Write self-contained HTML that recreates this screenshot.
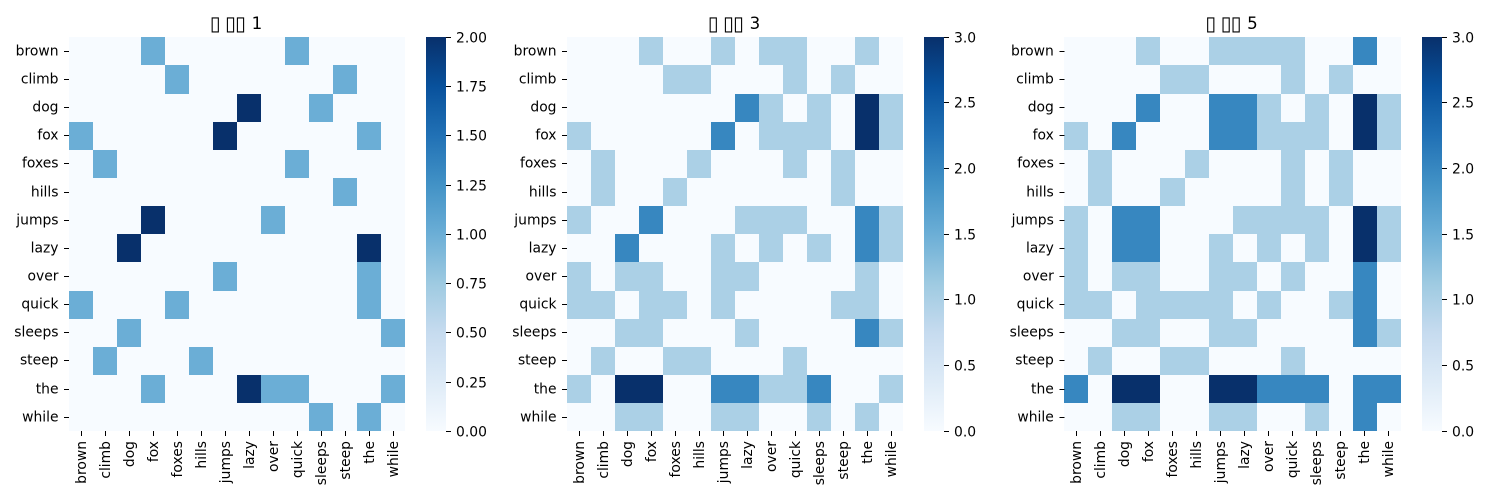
<!DOCTYPE html>
<html lang="en">
<head>
<meta charset="utf-8">
<title>Co-occurrence heatmaps</title>
<style>
html,body{margin:0;padding:0;background:#fff;}
svg{display:block;}
text{font-family:"DejaVu Sans",sans-serif;fill:#000;}
.tick-label{font-size:13.89px;}
.title{font-size:16.67px;}
</style>
</head>
<body>
<svg id="chart" xmlns="http://www.w3.org/2000/svg" width="1500" height="500" viewBox="0 0 1500 500">
<rect x="0" y="0" width="1500" height="500" fill="#ffffff"></rect>
<defs><linearGradient id="blues-gradient" x1="0" y1="1" x2="0" y2="0"></linearGradient></defs>
</svg>
<script>
const rowLabels = ['brown','climb','dog','fox','foxes','hills','jumps','lazy','over','quick','sleeps','steep','the','while'];
const columnLabels = ['brown','climb','dog','fox','foxes','hills','jumps','lazy','over','quick','sleeps','steep','the','while'];

const window1Title = '\u25AF \u25AF\u25AF 1';
const window1Counts = [
  [0,0,0,1,0,0,0,0,0,1,0,0,0,0],
  [0,0,0,0,1,0,0,0,0,0,0,1,0,0],
  [0,0,0,0,0,0,0,2,0,0,1,0,0,0],
  [1,0,0,0,0,0,2,0,0,0,0,0,1,0],
  [0,1,0,0,0,0,0,0,0,1,0,0,0,0],
  [0,0,0,0,0,0,0,0,0,0,0,1,0,0],
  [0,0,0,2,0,0,0,0,1,0,0,0,0,0],
  [0,0,2,0,0,0,0,0,0,0,0,0,2,0],
  [0,0,0,0,0,0,1,0,0,0,0,0,1,0],
  [1,0,0,0,1,0,0,0,0,0,0,0,1,0],
  [0,0,1,0,0,0,0,0,0,0,0,0,0,1],
  [0,1,0,0,0,1,0,0,0,0,0,0,0,0],
  [0,0,0,1,0,0,0,2,1,1,0,0,0,1],
  [0,0,0,0,0,0,0,0,0,0,1,0,1,0]
];
const window1TickValues = [0,0.25,0.5,0.75,1,1.25,1.5,1.75,2];
const window1TickLabels = ['0.00','0.25','0.50','0.75','1.00','1.25','1.50','1.75','2.00'];

const window3Title = '\u25AF \u25AF\u25AF 3';
const window3Counts = [
  [0,0,0,1,0,0,1,0,1,1,0,0,1,0],
  [0,0,0,0,1,1,0,0,0,1,0,1,0,0],
  [0,0,0,0,0,0,0,2,1,0,1,0,3,1],
  [1,0,0,0,0,0,2,0,1,1,1,0,3,1],
  [0,1,0,0,0,1,0,0,0,1,0,1,0,0],
  [0,1,0,0,1,0,0,0,0,0,0,1,0,0],
  [1,0,0,2,0,0,0,1,1,1,0,0,2,1],
  [0,0,2,0,0,0,1,0,1,0,1,0,2,1],
  [1,0,1,1,0,0,1,1,0,0,0,0,1,0],
  [1,1,0,1,1,0,1,0,0,0,0,1,1,0],
  [0,0,1,1,0,0,0,1,0,0,0,0,2,1],
  [0,1,0,0,1,1,0,0,0,1,0,0,0,0],
  [1,0,3,3,0,0,2,2,1,1,2,0,0,1],
  [0,0,1,1,0,0,1,1,0,0,1,0,1,0]
];
const window3TickValues = [0,0.5,1,1.5,2,2.5,3];
const window3TickLabels = ['0.0','0.5','1.0','1.5','2.0','2.5','3.0'];

const window5Title = '\u25AF \u25AF\u25AF 5';
const window5Counts = [
  [0,0,0,1,0,0,1,1,1,1,0,0,2,0],
  [0,0,0,0,1,1,0,0,0,1,0,1,0,0],
  [0,0,0,2,0,0,2,2,1,0,1,0,3,1],
  [1,0,2,0,0,0,2,2,1,1,1,0,3,1],
  [0,1,0,0,0,1,0,0,0,1,0,1,0,0],
  [0,1,0,0,1,0,0,0,0,1,0,1,0,0],
  [1,0,2,2,0,0,0,1,1,1,1,0,3,1],
  [1,0,2,2,0,0,1,0,1,0,1,0,3,1],
  [1,0,1,1,0,0,1,1,0,1,0,0,2,0],
  [1,1,0,1,1,1,1,0,1,0,0,1,2,0],
  [0,0,1,1,0,0,1,1,0,0,0,0,2,1],
  [0,1,0,0,1,1,0,0,0,1,0,0,0,0],
  [2,0,3,3,0,0,3,3,2,2,2,0,2,2],
  [0,0,1,1,0,0,1,1,0,0,1,0,2,0]
];
const window5TickValues = [0,0.5,1,1.5,2,2.5,3];
const window5TickLabels = ['0.0','0.5','1.0','1.5','2.0','2.5','3.0'];

const bluesRamp = ['#f7fbff','#deebf7','#c6dbef','#9ecae1','#6baed6','#4292c6','#2171b5','#08519c','#08306b'];

const SVG_NS = 'http://www.w3.org/2000/svg';
const chart = document.getElementById('chart');

function hexToRgb(h){
  return [parseInt(h.slice(1,3),16),parseInt(h.slice(3,5),16),parseInt(h.slice(5,7),16)];
}
function bluesColor(t){
  const c = Math.max(0,Math.min(1,t))*(bluesRamp.length-1);
  const i = Math.min(Math.floor(c),bluesRamp.length-2);
  const f = c-i;
  const a = hexToRgb(bluesRamp[i]);
  const b = hexToRgb(bluesRamp[i+1]);
  const m = [0,1,2].map(function(k){return Math.round(a[k]+(b[k]-a[k])*f);});
  return 'rgb('+m[0]+','+m[1]+','+m[2]+')';
}
function make(tag,parent){
  const node = document.createElementNS(SVG_NS,tag);
  parent.appendChild(node);
  return node;
}
function setAll(node,props){
  Object.keys(props).forEach(function(k){node.setAttribute(k,props[k]);});
}

const gradient = document.getElementById('blues-gradient');
bluesRamp.forEach(function(color,i){
  const stop = make('stop',gradient);
  setAll(stop,{offset:(i/(bluesRamp.length-1)),'stop-color':color});
});

/* Fit the box glyph used in titles to the size of the missing-glyph boxes. */
const measureCtx = document.createElement('canvas').getContext('2d');
measureCtx.font = '100px "DejaVu Sans"';
const boxInk = measureCtx.measureText('\u25AF');
const boxInkHeight = (boxInk.actualBoundingBoxAscent + boxInk.actualBoundingBoxDescent) / 100;
const boxFontSize = boxInkHeight > 0 ? 15.4 / boxInkHeight : 24;
const boxBaseline = 32.7 - (boxInk.actualBoundingBoxDescent / 100) * boxFontSize;
const boxInkCentre = ((boxInk.actualBoundingBoxRight - boxInk.actualBoundingBoxLeft) / 2) / 100 * boxFontSize;

const plotTop = 37.3;
const rowHeight = 28.14;
const plotHeight = rowHeight*14;
const tickLength = 5;
const tickPad = 5;

function drawTitle(slug,group,titleText,centre){
  const title = make('text',group);
  title.setAttribute('class','title');
  
  
  let pen = centre - 25.6;
  Array.from(titleText).forEach(function(ch){
    const span = make('tspan',title);
    span.textContent = ch;
    if (ch === '\u25AF') {
      setAll(span,{x:pen+4.15-boxInkCentre,y:boxBaseline,'font-size':boxFontSize});
      pen += 10;
    } else if (ch === ' ') {
      setAll(span,{x:pen,y:29});
      pen += 5.3;
    } else {
      setAll(span,{x:pen,y:29});
      pen += 10.6;
    }
  });
}

function drawPanel(slug,titleText,counts,tickValues,tickLabels,left,cellWidth,barLeft){
  const group = make('g',chart);
  
  

  const vmax = Math.max.apply(null,counts.map(function(r){return Math.max.apply(null,r);}));
  const xEdge = function(i){return Math.round(left+i*cellWidth);};
  const yEdge = function(i){return Math.round(plotTop+i*rowHeight);};
  const colorScale = function(v){return bluesColor(v/vmax);};
  const barY = function(v){return plotTop+plotHeight-(v/vmax)*plotHeight;};

  drawTitle(slug,group,titleText,left+cellWidth*7-0.4);

  counts.forEach(function(row,r){
    row.forEach(function(value,c){
      const cell = make('rect',group);
      setAll(cell,{x:xEdge(c),y:yEdge(r),width:xEdge(c+1)-xEdge(c),height:yEdge(r+1)-yEdge(r),fill:colorScale(value),'shape-rendering':'crispEdges'});
      
      
    });
  });

  rowLabels.forEach(function(label,r){
    const cy = plotTop+(r+0.5)*rowHeight;
    const tick = make('rect',group);
    setAll(tick,{x:left-tickLength,y:Math.floor(cy),width:tickLength,height:1,fill:'#000','shape-rendering':'crispEdges'});
    
    
    const text = make('text',group);
    setAll(text,{x:left-tickLength-tickPad-0.5,y:Math.floor(cy)+4.5,'text-anchor':'end','class':'tick-label'});
    text.textContent = label;
    
    
  });

  columnLabels.forEach(function(label,c){
    const cx = left+(c+0.5)*cellWidth;
    const base = yEdge(14);
    const tick = make('rect',group);
    setAll(tick,{x:Math.floor(cx),y:base,width:1,height:tickLength,fill:'#000','shape-rendering':'crispEdges'});
    
    
    const text = make('text',group);
    const tx = Math.floor(cx)+5;
    const ty = base+tickLength+tickPad;
    setAll(text,{x:tx,y:ty,'text-anchor':'end',transform:'rotate(-90 '+tx+' '+ty+')','class':'tick-label'});
    text.textContent = label;
    
    
  });

  const bar = make('rect',group);
  setAll(bar,{x:barLeft,y:yEdge(0),width:20,height:yEdge(14)-yEdge(0),fill:'url(#blues-gradient)'});
  
  

  tickValues.forEach(function(value,i){
    const y = barY(value);
    const tick = make('rect',group);
    setAll(tick,{x:barLeft+20,y:Math.floor(y),width:tickLength,height:1,fill:'#000','shape-rendering':'crispEdges'});
    
    
    const text = make('text',group);
    setAll(text,{x:barLeft+20+tickLength+tickPad,y:Math.floor(y)+5.5,'class':'tick-label'});
    text.textContent = tickLabels[i];
    
    
  });
}

drawPanel('window-1',window1Title,window1Counts,window1TickValues,window1TickLabels,69,24,426);
drawPanel('window-3',window3Title,window3Counts,window3TickValues,window3TickLabels,567,24,924);
drawPanel('window-5',window5Title,window5Counts,window5TickValues,window5TickLabels,1064.3,24.04,1422);
</script>
</body>
</html>
